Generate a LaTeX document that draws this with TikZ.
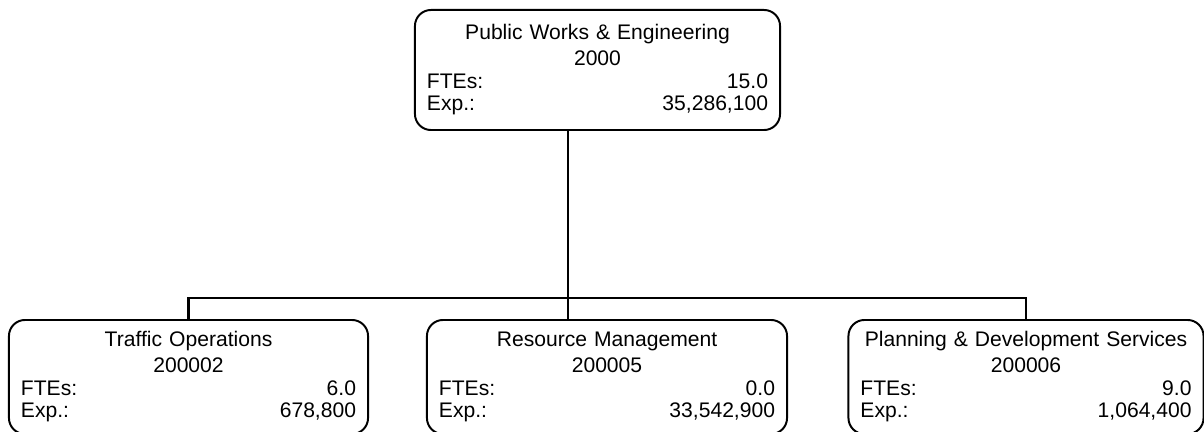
\documentclass[tikz,border=0pt]{standalone}
\usepackage{fontspec}
\setmainfont{Liberation Sans}
\usetikzlibrary{positioning}

\newcommand{\unitinfo}[4]{{\centering #1\\[2.5pt]#2\par}FTEs:\hfill #3\\Exp.:\hfill #4}

\tikzset{
	unit/.style={draw,line width=1.4pt,rounded corners=0.4cm,inner xsep=0.3cm,inner ysep=0pt,font=\fontsize{15}{16}\selectfont},
	link/.style={line width=2.1pt}
}

\begin{document}
\begin{tikzpicture}[x=0.025cm,y=-0.025cm]
			\useasboundingbox (0,0) rectangle (1204,432);

			\node[unit,text width=8.525cm,minimum height=3cm] (PWE) at (597.5,70)
				{\unitinfo{Public Works \& Engineering}{2000}{15.0}{35,286,100}};

			\node[unit,text width=8.375cm,minimum height=2.85cm] (TRF) at (188.5,377)
				{\unitinfo{Traffic Operations}{200002}{6.0}{678,800}};
			\node[unit,text width=8.4cm,minimum height=2.85cm] (RSM) at (607,377)
				{\unitinfo{Resource Management}{200005}{0.0}{33,542,900}};
			\node[unit,text width=8.275cm,minimum height=2.85cm] (PDS) at (1026,377)
				{\unitinfo{Planning \& Development Services}{200006}{9.0}{1,064,400}};

			\coordinate (T) at (568,298);

			\draw[link] (PWE.south -| T)--(RSM.north -| T);
			\draw[link] (TRF.north)|-(T)-|(PDS.north);
\end{tikzpicture}
\end{document}
